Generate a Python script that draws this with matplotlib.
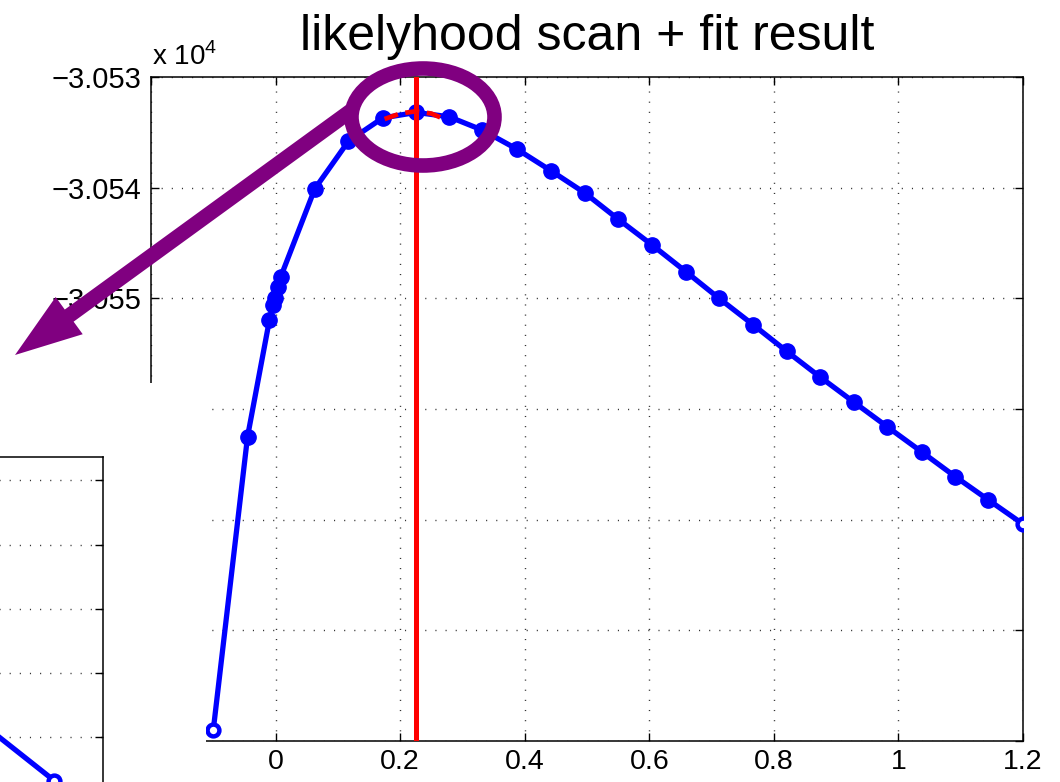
import numpy as np
import matplotlib
matplotlib.use('Agg')
import matplotlib.pyplot as plt
from matplotlib.patches import Ellipse, FancyArrow

plt.rcParams['font.family'] = ['Liberation Sans', 'DejaVu Sans']
plt.rcParams['mathtext.fontset'] = 'custom'
plt.rcParams['mathtext.rm'] = 'Liberation Sans'

# likelihood scan points
scan_x = [-0.100, -0.045, -0.010, -0.004, -0.001, 0.004, 0.008, 0.063, 0.117,
          0.172, 0.226, 0.279, 0.332, 0.387, 0.443, 0.497, 0.549, 0.605,
          0.659, 0.712, 0.767, 0.821, 0.874, 0.929, 0.982, 1.038, 1.091,
          1.144, 1.200]
scan_y = [-30589.0, -30562.5, -30552.0, -30550.6, -30550.0, -30549.0, -30548.1,
          -30540.1, -30535.8, -30533.7, -30533.2, -30533.6, -30534.8, -30536.5,
          -30538.5, -30540.5, -30542.8, -30545.2, -30547.6, -30550.0, -30552.4,
          -30554.8, -30557.1, -30559.4, -30561.6, -30563.9, -30566.1, -30568.2,
          -30570.4]

# parabola fit around the maximum
fit_x = [0.175, 0.200, 0.225, 0.250, 0.275]
fit_y = [-30533.8, -30533.3, -30533.1, -30533.3, -30533.9]
fit_peak = 0.225

# ticks; the lower left ones sit under the white block, so no label
x_ticks = [-0.2, 0, 0.2, 0.4, 0.6, 0.8, 1, 1.2]
x_labels = ['', '0', '0.2', '0.4', '0.6', '0.8', '1', '1.2']
y_ticks = [-30590, -30580, -30570, -30560, -30550, -30540, -30530]
y_labels = ['', '', '', '', '\u22123.055', '\u22123.054', '\u22123.053']

blue = '#0000ff'
red = '#ff0000'
purple = '#800080'
grid_style = dict(color='0.2', linestyle=(0, (0.8, 6.5)), linewidth=1.0)

W, H = 1060, 782
fig = plt.figure(figsize=(W / 100, H / 100), dpi=100)


def frac(left, top, right, bottom):
    # pixel box -> figure fraction
    return [left / W, 1 - bottom / H, (right - left) / W, (bottom - top) / H]


def matlab_axes(ax):
    ax.tick_params(direction='in', length=6, width=1, top=True, right=True,
                   labelsize=21, pad=7)
    ax.tick_params(axis='x', pad=6, labelsize=20.5)
    for s in ax.spines.values():
        s.set_linewidth(1.1)
    ax.set_axisbelow(True)


# main plot
ax = fig.add_axes(frac(151, 77, 1023, 741))
matlab_axes(ax)
ax.grid(True, **grid_style)
ax.plot(scan_x, scan_y, color=blue, lw=3.8, zorder=2)
ax.plot(scan_x[1:-1], scan_y[1:-1], 'o', color=blue, ms=11, zorder=3)
ax.plot([scan_x[0], scan_x[-1]], [scan_y[0], scan_y[-1]], 'o', color=blue,
        mfc='white', mew=3.2, ms=8.5, zorder=3)
ax.plot(fit_x, fit_y, color=red, lw=3.4, ls=(0, (3, 1.6)), zorder=4)
ax.axvline(fit_peak, color=red, lw=3.6, zorder=5)
ax.set_xlim(-0.2, 1.2)
ax.set_ylim(-30590, -30530)
ax.set_xticks(x_ticks)
ax.set_xticklabels(x_labels)
ax.set_yticks(y_ticks)
ax.set_yticklabels(y_labels)
fig.text(152 / W, 1 - 65 / H, 'x 10$^4$', fontsize=20, va='baseline')
fig.text(587 / W, 1 - 50 / H, 'likelyhood scan + fit result', fontsize=36,
         ha='center', va='baseline')

# white block over the lower left corner
cover = fig.add_axes(frac(0, 383, 206, 782))
cover.set_facecolor('white')
cover.set_xticks([])
cover.set_yticks([])
for s in cover.spines.values():
    s.set_visible(False)

# clipped second plot in the corner
ins = fig.add_axes(frac(-300, 457, 103, 850))
matlab_axes(ins)
ins.plot(scan_x, scan_y, color=blue, lw=3.8)
ins.plot(scan_x[-1], scan_y[-1], 'o', color=blue, mfc='white', mew=3.2, ms=8.5)
ins.set_xlim(1.135, 1.2089)
ins.set_ylim(-30571.03, -30567.45)
ins.set_xticks([])
ins.set_yticks(np.linspace(-30570.0, -30567.664, 5))
ins.set_yticklabels([])
ins.grid(True, axis='y', **grid_style)

# purple highlight on top
over = fig.add_axes([0, 0, 1, 1])
over.set_xlim(0, W)
over.set_ylim(H, 0)
over.axis('off')
over.add_patch(FancyArrow(352, 110, 15 - 352, 355 - 110, width=15,
                          head_width=46, head_length=67,
                          length_includes_head=True, color=purple, lw=0))
over.add_patch(Ellipse((423, 117), 143, 97, fill=False, ec=purple, lw=10.5))

fig.savefig('out.png', dpi=100)
